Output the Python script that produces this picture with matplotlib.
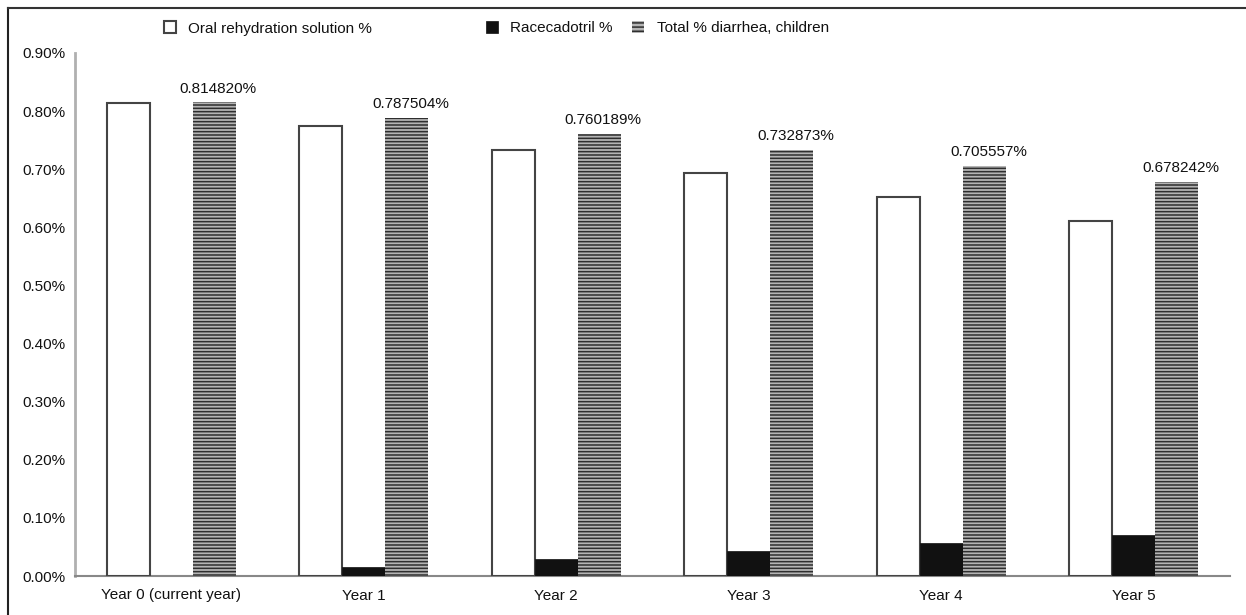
import numpy as np
import matplotlib.pyplot as plt
from matplotlib.patches import Rectangle
from matplotlib.lines import Line2D

plt.rcParams['font.family'] = ['Liberation Sans', 'DejaVu Sans']
plt.rcParams['hatch.linewidth'] = 1.1

# === Data ===
years = ["Year 0 (current year)", "Year 1", "Year 2", "Year 3", "Year 4", "Year 5"]
ors = [0.8148, 0.774, 0.733, 0.693, 0.652, 0.611]
racecadotril = [0.0, 0.016, 0.029, 0.043, 0.056, 0.070]
total = [0.814820, 0.787504, 0.760189, 0.732873, 0.705557, 0.678242]
total_labels = ["0.814820%", "0.787504%", "0.760189%", "0.732873%", "0.705557%", "0.678242%"]
yticks = [0.0, 0.1, 0.2, 0.3, 0.4, 0.5, 0.6, 0.7, 0.8, 0.9]

# === Figure ===
fig = plt.figure(figsize=(12.46, 6.15), dpi=100)
ax = fig.add_axes([75 / 1246, 1 - 576 / 615, (1230 - 75) / 1246, (576 - 53) / 615])

x = np.arange(len(years))
w = 0.223
hatch_face = '#b4b4b4'
hatch_col = '#2e2e2e'

ax.bar(x - w, ors, w, color='white', edgecolor='#444444', linewidth=1.5, zorder=3)
ax.bar(x, racecadotril, w, color='#111111', edgecolor='#111111', linewidth=0.5, zorder=3)
ax.bar(x + w, total, w, color=hatch_face, edgecolor=hatch_col, hatch='-----', linewidth=0, zorder=3)

for xi, v, lab in zip(x, total, total_labels):
    ax.annotate(lab, (xi + w, v), xytext=(3, 5), textcoords='offset points',
                ha='center', va='bottom', fontsize=11, color='#111111')

ax.set_xlim(-0.5, len(years) - 0.5)
ax.set_ylim(0, 0.9)
ax.set_yticks(yticks)
ax.set_yticklabels([f"{t:.2f}%" for t in yticks])
ax.set_xticks(x)
ax.set_xticklabels(years)
ax.tick_params(axis='both', length=0, labelsize=11, labelcolor='#111111')
ax.tick_params(axis='x', pad=9)
ax.tick_params(axis='y', pad=7)

for s in ['top', 'right']:
    ax.spines[s].set_visible(False)
ax.spines['left'].set_color('#b0b0b0')
ax.spines['left'].set_linewidth(2)
ax.spines['bottom'].set_color('#888888')
ax.spines['bottom'].set_linewidth(1.5)

# === Legend (drawn by hand to keep the uneven spacing) ===
H, W = 615, 1246
def fx(px):
    return px / W
def fy(py):
    return 1 - py / H

legend_items = [
    (164, 188, dict(facecolor='white', edgecolor='#444444', linewidth=1.5), "Oral rehydration solution %"),
    (486, 510, dict(facecolor='#111111', edgecolor='#111111', linewidth=0.5), "Racecadotril %"),
    (632, 657, dict(facecolor=hatch_face, edgecolor=hatch_col, hatch='----', linewidth=0), "Total % diarrhea, children"),
]
for sx, tx, style, text in legend_items:
    fig.add_artist(Rectangle((fx(sx), fy(33)), fx(12), 12 / H, transform=fig.transFigure, **style))
    fig.text(fx(tx), fy(32.5), text, fontsize=11, va='baseline', ha='left', color='#111111')

# === Outer frame ===
fig.add_artist(Line2D([fx(8), fx(8)], [fy(8), 0], transform=fig.transFigure, color='#222222', linewidth=1.5))
fig.add_artist(Line2D([fx(8), fx(1246)], [fy(8), fy(8)], transform=fig.transFigure, color='#333333', linewidth=1.5))

fig.savefig('out.png', dpi=100)
